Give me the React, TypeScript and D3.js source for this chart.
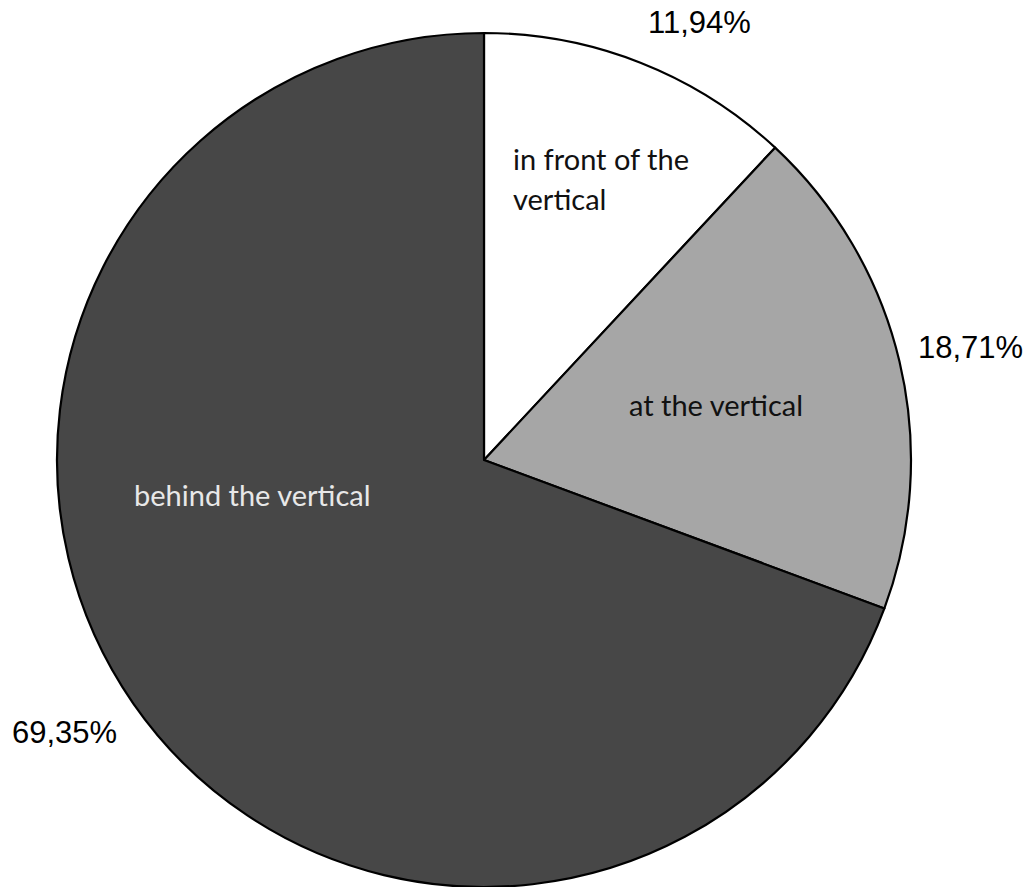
import React from "react";
import * as d3 from "d3";

const categories = ["in front of the vertical", "at the vertical", "behind the vertical"];
const values = [11.94, 18.71, 69.35];
const valueLabels = ["11,94%", "18,71%", "69,35%"];
const innerLines = [["in front of the", "vertical"], ["at the vertical"], ["behind the vertical"]];
const colors = ["#ffffff", "#a6a6a6", "#474747"];
const innerTextColors = ["#111111", "#111111", "#e8e8e8"];
// label placement: [x, y] for percentage label (start anchor) and inner label
const pctPos: [number, number][] = [[648, 33], [918, 358], [12, 743]];
const innerPos: [number, number][] = [[513, 170], [629, 416], [134, 506]];

export default function App() {
  const W = 1026, H = 887;
  const cx = 484, cy = 460, r = 427;
  const pie = d3.pie<number>().sort(null).value((d) => d);
  const arcs = pie(values);
  const arc = d3.arc<d3.PieArcDatum<number>>().innerRadius(0).outerRadius(r);
  return (
    <svg width={W} height={H} style={{ position: "absolute", left: 0, top: 0, background: "#fff" }}>
      <g transform={`translate(${cx},${cy})`}>
        {arcs.map((a, i) => (
          <path key={i} d={arc(a) || ""} fill={colors[i]} stroke="#000" strokeWidth={2.2} strokeLinejoin="round" />
        ))}
      </g>
      {innerLines.map((lines, i) => (
        <text key={"in" + i} x={innerPos[i][0]} y={innerPos[i][1]} fill={innerTextColors[i]}
          style={{ fontFamily: "Lato, 'Open Sans', sans-serif", fontSize: 29 }}>
          {lines.map((l, j) => (
            <tspan key={j} x={innerPos[i][0]} dy={j === 0 ? 0 : 40}>{l}</tspan>
          ))}
        </text>
      ))}
      {valueLabels.map((t, i) => (
        <text key={"p" + i} x={pctPos[i][0]} y={pctPos[i][1]} fill="#000"
          style={{ fontFamily: "'Liberation Sans', Arial, sans-serif", fontSize: 31 }}>{t}</text>
      ))}
    </svg>
  );
}
